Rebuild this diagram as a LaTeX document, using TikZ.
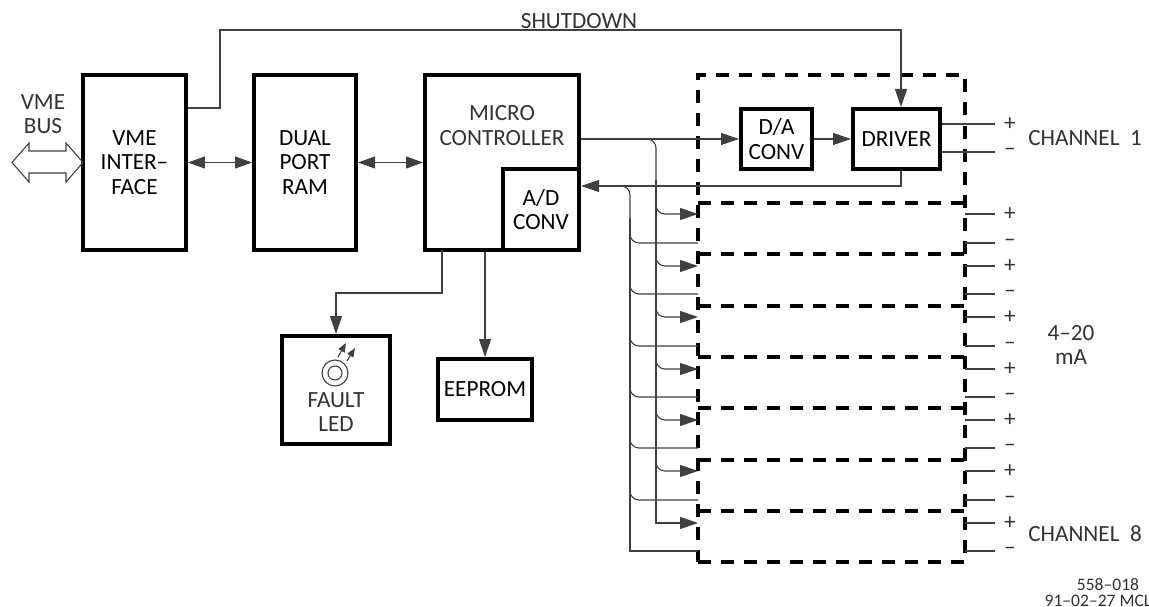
\documentclass[tikz,border=0pt]{standalone}
\usepackage{fontspec}
\setmainfont{Carlito}
\usetikzlibrary{arrows.meta}

\tikzset{
  boxed/.style n args={2}{draw,line width=0.08cm,minimum width=#1*0.02cm,minimum height=#2*0.02cm,inner sep=0pt,align=center},
  sig/.style={line width=0.022cm,draw=black!75},
  tiparrow/.style={-{Stealth[length=3.6mm,width=2.4mm,inset=0pt]}},
  tipboth/.style={{Stealth[length=3.4mm,width=2.4mm,inset=0pt]}-{Stealth[length=3.4mm,width=2.4mm,inset=0pt]}},
  dashline/.style={line width=0.07cm,dash pattern=on 7.4pt off 5.7pt},
  txt/.style={inner sep=0pt,align=center,text=black!80},
  every node/.style={font=\fontsize{13.2}{13.9}\selectfont}
}

\begin{document}
\begin{tikzpicture}[x=0.02cm,y=-0.02cm]
  \useasboundingbox (0,0) rectangle (1149,607);
  % main blocks
  \node[boxed={103}{175}] (vme) at (134.5,162.5) {VME\\INTER--\\FACE};
  \node[boxed={102}{175}] (dual) at (305,162.5) {DUAL\\PORT\\RAM};
  \node[boxed={154}{175}] (micro) at (502,162.5) {};
  \node[txt] (microtxt) at (502,125.5) {MICRO\\CONTROLLER};
  \node[boxed={76}{81}] (adc) at (541,209.5) {A/D\\CONV};
  \node[boxed={71}{60}] (dac) at (776.5,139) {D/A\\CONV};
  \node[boxed={87}{60}] (drv) at (896.5,139) {DRIVER};
  \node[boxed={94}{61}] (eeprom) at (485,389.5) {EEPROM};
  \node[boxed={108}{108}] (led) at (336,390) {};
  \node[txt] (ledtxt) at (336,412) {FAULT\\LED};
  % the lamp
  \node[circle,draw,sig,minimum size=0.52cm,inner sep=0pt] (lampout) at (335,373) {};
  \node[circle,draw,sig,minimum size=0.28cm,inner sep=0pt] (lampin) at (335,373) {};
  \coordinate (raya) at (338,357);
  \coordinate (rayb) at (346,343);
  \coordinate (rayc) at (347,361);
  \coordinate (rayd) at (355,348);
  \draw[sig,-{Stealth[length=1.8mm,width=1.4mm,inset=0pt]}] (raya) -- (rayb);
  \draw[sig,-{Stealth[length=1.8mm,width=1.4mm,inset=0pt]}] (rayc) -- (rayd);
  % bus arrow on the left
  \draw[sig] (12,162.5) -- (29,143) -- (29,151) -- (66,151) -- (66,143) -- (83,162.5)
    -- (66,182) -- (66,173) -- (29,173) -- (29,182) -- cycle;
  \node[txt] (bustxt) at (43,114) {VME\\BUS};
  % dashed channel frame
  \node[draw,dashline,minimum width=267*0.02cm,minimum height=487*0.02cm,outer sep=0pt] (frame) at (831.5,318.5) {};
  % links between the blocks
  \draw[sig,tipboth] (vme.east) -- (dual.west);
  \draw[sig,tipboth] (dual.east) -- (micro.west);
  \draw[sig,tiparrow] (micro.east|-dac.west) -- (dac.west);
  \draw[sig,tiparrow] (dac.east) -- (drv.west);
  % shutdown
  \coordinate (shuta) at (220,108);
  \coordinate (shutb) at (220,30);
  \coordinate (shutc) at (901,30);
  \draw[sig,tiparrow] (vme.east|-shuta) -- (shuta) -- (shutb) -- (shutc) -- (drv.north-|shutc);
  \node[txt] (shuttxt) at (579,21) {SHUTDOWN};
  % feedback into the converter
  \coordinate (backa) at (901,186);
  \draw[sig,tiparrow] (drv.south-|backa) -- (backa) -- (adc.east|-backa);
  % lamp and memory
  \coordinate (leda) at (442,250);
  \coordinate (ledb) at (442,293);
  \coordinate (ledc) at (336,293);
  \draw[sig,tiparrow] (leda) -- (ledb) -- (ledc) -- (led.north);
  \draw[sig,tiparrow] (micro.south-|eeprom.north) -- (eeprom.north);
  % the two buses down the channels
  \coordinate (taptop) at (647,139);
  \coordinate (tapmid) at (656,180);
  \coordinate (tapend) at (656,523);
  \coordinate (rettop) at (621,186);
  \coordinate (retmid) at (630,220);
  \coordinate (retend) at (630,551);
  \draw[sig,rounded corners=0.18cm] (taptop) -| (tapmid);
  \draw[sig,rounded corners=0.18cm] (rettop) -| (retmid);
  \draw[sig,tiparrow] (tapmid) -- (tapend) -- (frame.west|-tapend);
  \draw[sig] (retmid) -- (retend) -- (frame.west|-retend);
  % channels 2 to 8
  \foreach \yin/\yret/\ysep [count=\i] in {214/243/203,266/294/254,317/346/306,369/397/357,420/448/408,471/500/460,523/551/511} {
    \coordinate (inp\i) at (656,\yin);
    \coordinate (ret\i) at (630,\yret);
    \coordinate (outp\i) at (995,\yin);
    \coordinate (outm\i) at (995,\yret);
    \draw[dashline] (frame.west|-inp\i) ++(0,\ysep-\yin) -- ++(267,0);
    \draw[sig] (frame.east|-inp\i) -- (outp\i);
    \draw[sig] (frame.east|-ret\i) -- (outm\i);
    \node[txt] (plus\i) at (1010,\yin) {+};
    \node[txt] (minus\i) at (1010,\yret) {--};
  }
  \foreach \yin/\yret in {214/243,266/294,317/346,369/397,420/448,471/500} {
    \draw[sig,tiparrow,rounded corners=0.18cm] (656,\yin-25) |- (698,\yin);
    \draw[sig,rounded corners=0.18cm] (630,\yret-25) |- (698,\yret);
  }
  % channel 1 outputs
  \coordinate (outpa) at (995,124);
  \coordinate (outma) at (995,152);
  \draw[sig] (drv.east|-outpa) -- (outpa);
  \draw[sig] (drv.east|-outma) -- (outma);
  \node[txt] (plusa) at (1010,124) {+};
  \node[txt] (minusa) at (1010,152) {--};
  % labels on the right
  \node[txt] (chone) at (1085,138) {CHANNEL\ \ 1};
  \node[txt] (range) at (1071,345) {4--20\\mA};
  \node[txt] (cheight) at (1085,534) {CHANNEL\ \ 8};
  \node[txt,font=\fontsize{10}{10}\selectfont] (dwg) at (1108,585) {558--018};
  \node[txt,font=\fontsize{10}{10}\selectfont] (date) at (1098,601) {91--02--27 MCL};
\end{tikzpicture}
\end{document}
